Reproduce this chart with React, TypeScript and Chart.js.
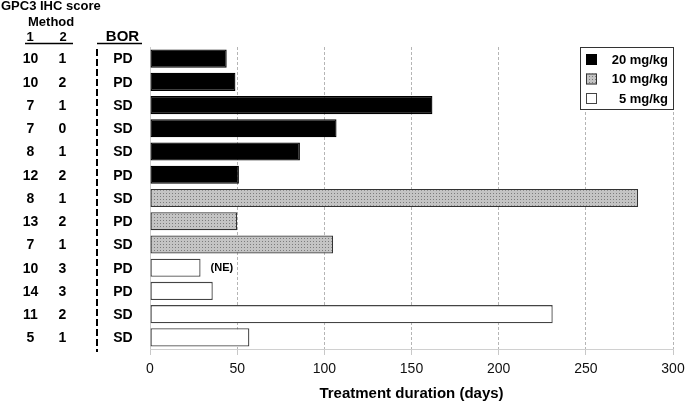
import React, { useEffect, useRef } from "react";
import { Chart, registerables } from "chart.js";
Chart.register(...registerables);

const rowIds = ["r1","r2","r3","r4","r5","r6","r7","r8","r9","r10","r11","r12","r13"];
const score1 = ["10","10","7","7","8","12","8","13","7","10","14","11","5"];
const score2 = ["1","2","1","0","1","2","1","2","1","3","3","2","1"];
const bor = ["PD","PD","SD","SD","SD","PD","SD","PD","SD","PD","PD","SD","SD"];
const duration = [44, 49, 162, 107, 86, 51, 280, 50, 105, 29, 36, 231, 57];
const dose = ["20","20","20","20","20","20","10","10","10","5","5","5","5"];
const notes = ["","","","","","","","","","(NE)","","",""];
const doseGroups = ["20", "10", "5"];
const doseLabels = ["20 mg/kg", "10 mg/kg", "5 mg/kg"];
const xTicks = [0, 50, 100, 150, 200, 250, 300];

const FONT = "'Liberation Sans', Arial, sans-serif";

function makePattern(): CanvasPattern | string {
  const c = document.createElement("canvas");
  c.width = 3;
  c.height = 3;
  const g = c.getContext("2d");
  if (!g) return "#bbb";
  g.fillStyle = "#c4c4c4";
  g.fillRect(0, 0, 3, 3);
  g.fillStyle = "#7c7c7c";
  g.fillRect(1, 1, 1, 1);
  const p = g.createPattern(c, "repeat");
  return p || "#bbb";
}

export default function App() {
  const ref = useRef<HTMLCanvasElement | null>(null);
  useEffect(() => {
    if (!ref.current) return;
    const pattern = makePattern();
    const fills: any = { "20": "#000000", "10": pattern, "5": "#ffffff" };
    const borders: any = { "20": "#000000", "10": "#333333", "5": "#444444" };

    const datasets = doseGroups.map((dg) => ({
      label: doseLabels[doseGroups.indexOf(dg)],
      data: duration.map((v, i) => (dose[i] === dg ? v : null)),
      backgroundColor: fills[dg],
      borderColor: borders[dg],
      borderWidth: 1.3,
      borderSkipped: false as any,
      grouped: false,
      barPercentage: 0.78,
      categoryPercentage: 1,
    }));

    const sidePlugin = {
      id: "side",
      afterDraw(chart: any) {
        const ctx = chart.ctx;
        const y = chart.scales.y;
        const x = chart.scales.x;
        const area = chart.chartArea;
        ctx.save();
        ctx.fillStyle = "#000";
        // header
        ctx.textBaseline = "alphabetic";
        ctx.textAlign = "left";
        ctx.font = `bold 13px ${FONT}`;
        ctx.fillText("GPC3 IHC score", 1, 10);
        ctx.fillText("Method", 28, 26);
        ctx.textAlign = "center";
        ctx.fillText("1", 30, 41);
        ctx.fillText("2", 63, 41);
        ctx.font = `bold 15px ${FONT}`;
        ctx.fillText("BOR", 122.5, 41);
        ctx.strokeStyle = "#000";
        ctx.lineWidth = 1.5;
        ctx.beginPath();
        ctx.moveTo(25, 43.5);
        ctx.lineTo(73, 43.5);
        ctx.moveTo(97, 43.5);
        ctx.lineTo(142, 43.5);
        ctx.stroke();
        // dashed separator
        ctx.lineWidth = 2;
        ctx.setLineDash([7, 3]);
        ctx.beginPath();
        ctx.moveTo(97, area.top + 2);
        ctx.lineTo(97, area.bottom + 3);
        ctx.stroke();
        ctx.setLineDash([]);
        // rows
        ctx.font = `bold 14px ${FONT}`;
        ctx.textBaseline = "middle";
        rowIds.forEach((id, i) => {
          const py = y.getPixelForValue(i) + 1;
          ctx.textAlign = "center";
          ctx.fillText(score1[i], 30.5, py);
          ctx.fillText(score2[i], 62.5, py);
          ctx.fillText(bor[i], 123, py);
          if (notes[i]) {
            ctx.textAlign = "left";
            ctx.font = `bold 11px ${FONT}`;
            ctx.fillText(notes[i], x.getPixelForValue(duration[i]) + 10, py - 1);
            ctx.font = `bold 14px ${FONT}`;
          }
        });
        // legend
        const lx = 580, ly = 47.5, lw = 93, lh = 62;
        ctx.fillStyle = "#fff";
        ctx.fillRect(lx, ly, lw, lh);
        ctx.strokeStyle = "#333";
        ctx.lineWidth = 1;
        ctx.strokeRect(lx + 0.5, ly, lw, lh);
        const rowsY = [60, 79.5, 99];
        doseGroups.forEach((dg, k) => {
          ctx.fillStyle = fills[dg];
          ctx.fillRect(586, rowsY[k] - 6, 11, 11);
          ctx.strokeStyle = borders[dg];
          ctx.lineWidth = 1;
          ctx.strokeRect(586.5, rowsY[k] - 5.5, 10, 10);
          ctx.fillStyle = "#000";
          ctx.font = `bold 13px ${FONT}`;
          ctx.textAlign = "right";
          ctx.textBaseline = "middle";
          ctx.fillText(doseLabels[k], 668, rowsY[k]);
        });
        ctx.restore();
      },
    };

    const chart = new Chart(ref.current, {
      type: "bar",
      data: { labels: rowIds, datasets },
      options: {
        indexAxis: "y",
        animation: false,
        responsive: true,
        maintainAspectRatio: false,
        layout: { padding: { left: 150, right: 12, top: 47, bottom: 0 } },
        plugins: { legend: { display: false }, tooltip: { enabled: false } },
        scales: {
          y: {
            type: "category",
            offset: true,
            ticks: { display: false },
            grid: { display: false, drawTicks: false },
            border: { display: true, color: "#cccccc", width: 1 },
            afterFit(s: any) {
              s.width = 0;
              s.paddingTop = 0;
              s.paddingBottom = 0;
            },
          },
          x: {
            type: "linear",
            min: 0,
            max: 300,
            afterBuildTicks(s: any) {
              s.ticks = xTicks.map((v) => ({ value: v }));
            },
            afterFit(s: any) {
              s.height = 54;
              s.paddingLeft = 0;
              s.paddingRight = 0;
            },
            ticks: {
              color: "#111",
              font: { family: FONT, size: 14 },
              padding: 6,
              maxRotation: 0,
            },
            grid: {
              color: (c: any) => (c.tick && c.tick.value === 0 ? "rgba(0,0,0,0)" : "#b5b5b5"),
              lineWidth: 1,
              tickLength: 6,
              tickColor: "#c8c8c8",
              tickBorderDash: [],
            },
            border: { display: true, color: "#d0d0d0", width: 1, dash: [3, 2] },
            title: {
              display: true,
              text: "Treatment duration (days)",
              color: "#000",
              font: { family: FONT, size: 15, weight: "bold" },
              padding: { top: 1, bottom: 0 },
            },
          },
        },
      },
      plugins: [sidePlugin],
    });
    return () => chart.destroy();
  }, []);
  return (
    <div style={{ position: "fixed", left: 0, top: 0, width: 685, height: 403, background: "#fff" }}>
      <canvas ref={ref} />
    </div>
  );
}
